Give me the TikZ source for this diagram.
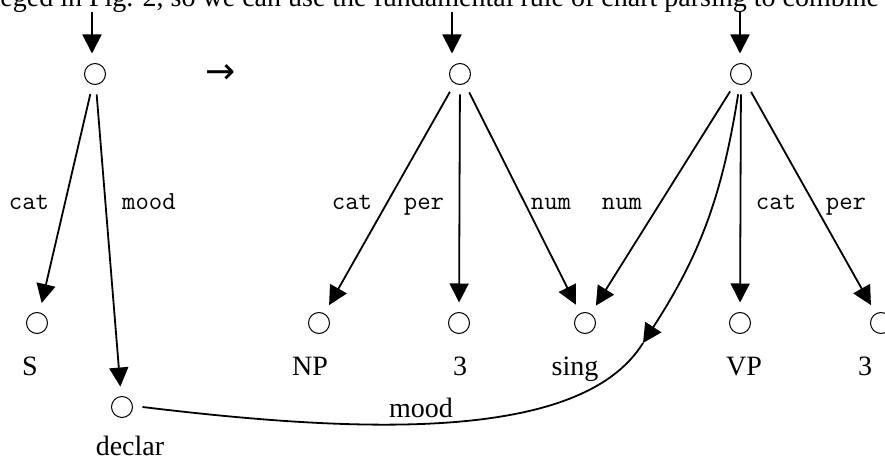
\documentclass[tikz,border=0pt]{standalone}
\usepackage{fontspec}
\setmainfont{Liberation Serif}
\newfontfamily\arrowfont{DejaVu Sans}
\usetikzlibrary{arrows.meta,positioning}
\def\wThin{0.5pt}
\def\wRegular{0.9pt}
\tikzset{
  dot/.style={circle, draw, line width=\wThin, minimum size=10.5pt, inner sep=0pt, outer sep=5pt},
  val/.style={font=\fontsize{14}{16}\selectfont, anchor=base, inner sep=0pt},
  feat/.style={font=\ttfamily\fontsize{13}{15}\selectfont, anchor=base, inner sep=0pt},
  link/.style={line width=\wRegular, -{Triangle[length=9.5pt, width=9.5pt]}},
  tie/.style={line width=\wRegular},
}

\begin{document}
\begin{tikzpicture}[x=0.5pt, y=-0.5pt]
% pixel grid of the scan: x to the right, y downwards
\useasboundingbox (0,0) rectangle (885,460);
\clip (0,0) rectangle (885,460);
\node[val, anchor=base west] (txt) at (0,7) {eged in Fig. 2, so we can use the fundamental rule of chart parsing to combine};

% ---- left structure
\node[dot] (l0) at (95,74) {};
\node[dot] (ls) at (37,323) {};
\node[dot] (ld) at (122,407) {};
\node[val] (lsv) at (30,375) {S};
\node[val] (ldv) at (130,455) {declar};
\coordinate (lin) at (92,12);
\draw[link] (lin) -- (lin |- l0.north);
\draw[link] (l0) -- (ls);
\draw[link] (l0) -- (ld);
\node[feat] (lcat) at (29,210) {cat};
\node[feat] (lmood) at (149,210) {mood};

\node[font=\arrowfont\fontsize{18}{20}\selectfont] (yields) at (221,74) {→};

% ---- middle structure
\node[dot] (m0) at (460,74) {};
\node[dot] (mnp) at (319,323) {};
\node[dot] (mper) at (459,323) {};
\node[dot] (sing) at (585,323) {};
\node[val] (mnpv) at (310,375) {NP};
\node[val] (mperv) at (460,375) {3};
\node[val] (singv) at (575,375) {sing};
\coordinate (min) at (452,12);
\draw[link] (min) -- (min |- m0.north);
\draw[link] (m0) -- (mnp);
\draw[link] (m0) -- (mper);
\draw[link] (m0) -- (sing);
\node[feat] (mcatl) at (352,210) {cat};
\node[feat] (mperl) at (424,210) {per};
\node[feat] (mnuml) at (551,210) {num};

% ---- right structure (shares sing)
\node[dot] (r0) at (741,74) {};
\node[dot] (rvp) at (740,323) {};
\node[dot] (rper) at (881,323) {};
\node[val] (rvpv) at (744,375) {VP};
\node[val] (rperv) at (865,375) {3};
\coordinate (rin) at (740,12);
\draw[link] (rin) -- (rin |- r0.north);
\draw[link] (r0) -- (sing);
\draw[link] (r0) -- (rvp);
\draw[link] (r0) -- (rper);
\node[feat] (rnuml) at (622,210) {num};
\node[feat] (rcatl) at (776,210) {cat};
\node[feat] (rperl) at (846,210) {per};

% ---- mood of the right structure is tied to declar
\coordinate (mj) at (643,343);
\draw[link] (r0) to[bend left=12] (mj);
\draw[tie] (ld.east) .. controls (350,432) and (580,445) .. (mj);
\node[val] (tmood) at (421,417) {mood};
\end{tikzpicture}
\end{document}
